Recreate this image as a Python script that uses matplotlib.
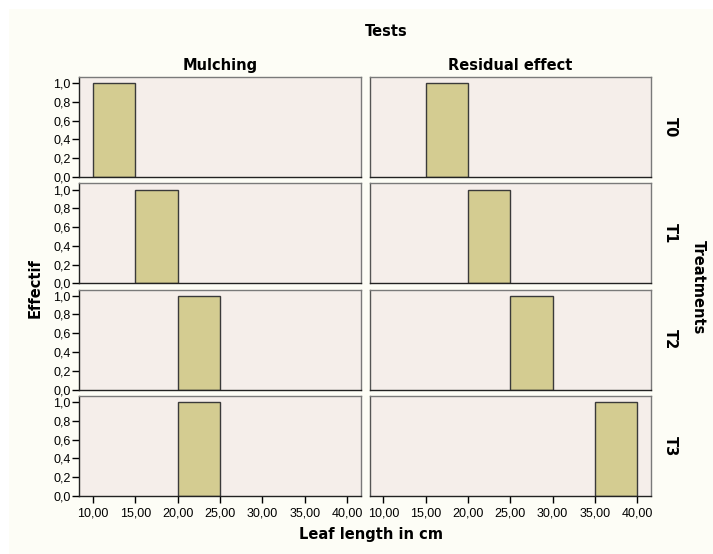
import numpy as np
import matplotlib.pyplot as plt
from matplotlib.patches import Rectangle
from matplotlib.ticker import FuncFormatter

plt.rcParams['font.family'] = ['Liberation Sans', 'DejaVu Sans']

tests = ['Mulching', 'Residual effect']
treatments = ['T0', 'T1', 'T2', 'T3']
# bin start (cm) holding the single observation, per treatment
mulching_bin = [10, 15, 20, 20]
residual_bin = [15, 20, 25, 35]
counts = [1, 1, 1, 1]
x_ticks = [10, 15, 20, 25, 30, 35, 40]
y_ticks = [0.0, 0.2, 0.4, 0.6, 0.8, 1.0]

W, H = 713, 554
fig = plt.figure(figsize=(W / 100, H / 100), dpi=100)
fig.patch.set_facecolor('white')
fig.patches.append(Rectangle((9 / W, 0), 1, 1 - 9 / H, transform=fig.transFigure,
                             facecolor='#fdfdf6', edgecolor='none', zorder=-10))

col_left = [79, 369.5]
col_w = [282, 281.5]
row_top = [77, 183.5, 289.5, 396]
row_h = 100

fmt_x = FuncFormatter(lambda v, p: f'{v:.2f}'.replace('.', ','))
fmt_y = FuncFormatter(lambda v, p: f'{v:.1f}'.replace('.', ','))
bold = dict(family='DejaVu Sans', fontweight='bold', fontsize=10.5)

bins = [mulching_bin, residual_bin]
for c in range(2):
    for r in range(4):
        ax = fig.add_axes([col_left[c] / W, 1 - (row_top[r] + row_h) / H,
                           col_w[c] / W, row_h / H])
        ax.set_facecolor('#f5eeea')
        ax.bar([bins[c][r]], [counts[r]], width=5, align='edge',
               color='#d4cc91', edgecolor='#3a3a3a', linewidth=1.0)
        ax.set_xlim(8.35, 41.65)
        ax.set_ylim(0, 1.065)
        for s in ['top', 'right']:
            ax.spines[s].set_color('#7a7a7a')
        for s in ['left', 'bottom']:
            ax.spines[s].set_color('#222222' if c == 0 or s == 'bottom' else '#555555')
        for s in ax.spines.values():
            s.set_linewidth(1.0)
        if c == 0:
            ax.set_yticks(y_ticks)
            ax.yaxis.set_major_formatter(fmt_y)
            ax.tick_params(axis='y', length=5, width=1, pad=1, labelsize=9)
        else:
            ax.set_yticks([])
        if r == 3:
            ax.set_xticks(x_ticks)
            ax.xaxis.set_major_formatter(fmt_x)
            ax.tick_params(axis='x', length=5, width=1, pad=3, labelsize=9)
        else:
            ax.set_xticks([])
        if r == 0:
            ax.set_title(tests[c], pad=5, **bold)
        if c == 1:
            ax.text(1.07, 0.5, treatments[r], transform=ax.transAxes, rotation=-90,
                    ha='center', va='center', **bold)

fig.text(386 / W, 1 - 31 / H, 'Tests', ha='center', va='center', **bold)
fig.text(371 / W, 1 - 534 / H, 'Leaf length in cm', ha='center', va='center', **bold)
fig.text(35 / W, 1 - 288 / H, 'Effectif', ha='center', va='center',
         rotation=90, **bold)
fig.text(698 / W, 1 - 287 / H, 'Treatments', ha='center', va='center',
         rotation=-90, **bold)

fig.savefig('out.png', dpi=100)
